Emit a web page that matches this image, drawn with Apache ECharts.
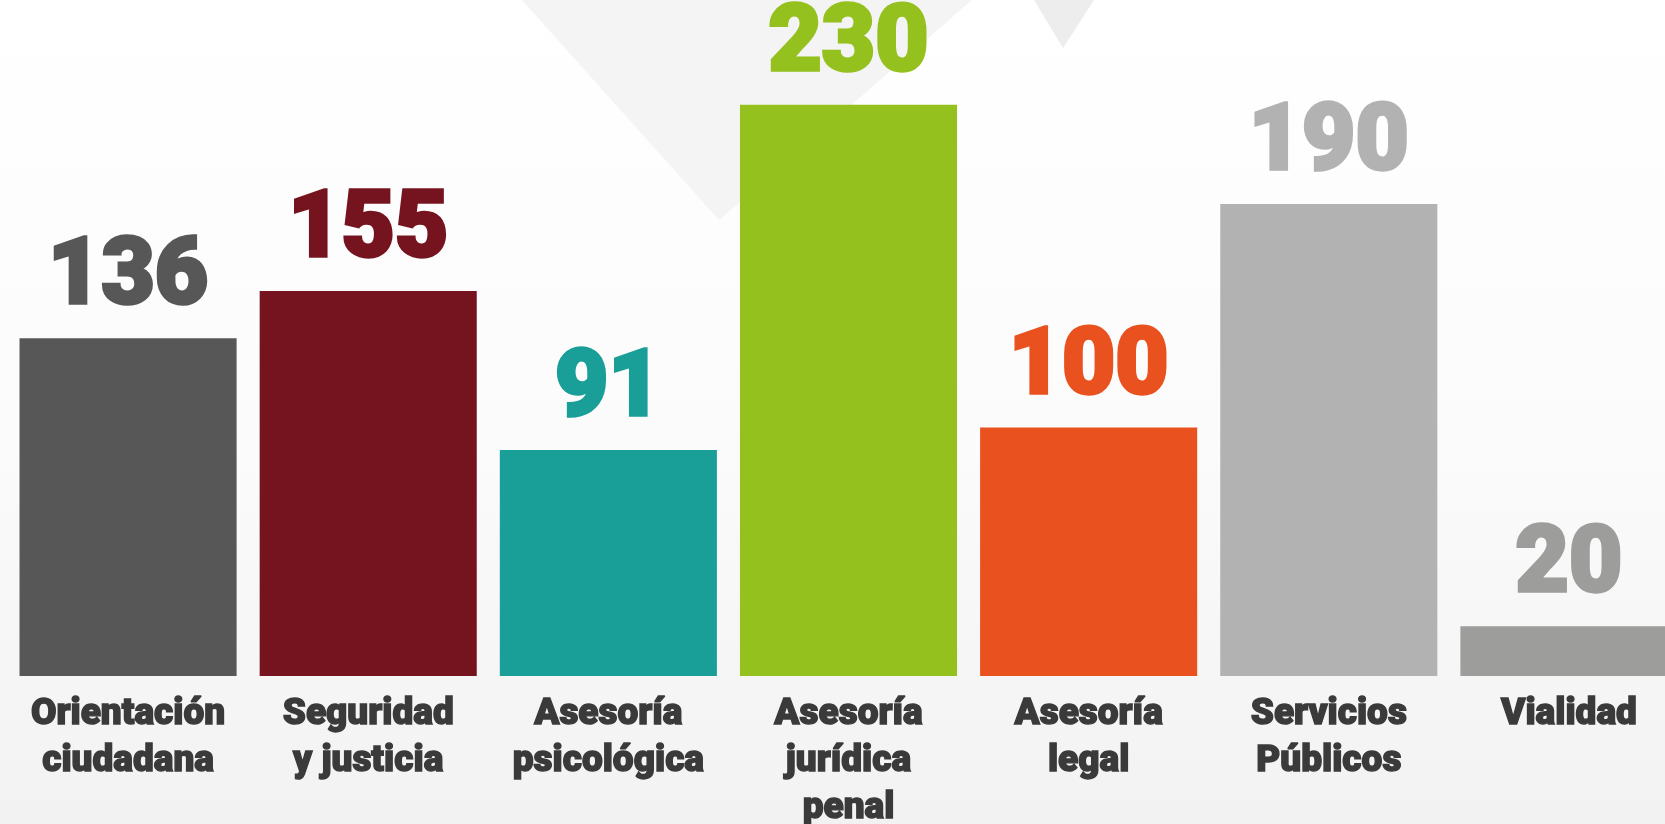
<!DOCTYPE html>
<html>
<head>
<meta charset="utf-8">
<title>Atenciones por área</title>
<script src="https://cdn.jsdelivr.net/npm/echarts@6/dist/echarts.min.js"></script>
<style>
  html, body { margin: 0; padding: 0; background: #fff; }
  #chart { width: 1665px; height: 824px; }
</style>
</head>
<body>
<div id="chart"></div>
<script>
// categorías y valores
const categories = [
  'Orientación\nciudadana',
  'Seguridad\ny justicia',
  'Asesoría\npsicológica',
  'Asesoría\njurídica\npenal',
  'Asesoría\nlegal',
  'Servicios\nPúblicos',
  'Vialidad'
]
const values = [136, 155, 91, 230, 100, 190, 20]
const colors = ['#575757', '#75141f', '#199e98', '#95c11f', '#e9511e', '#b2b2b2', '#9d9d9c']

const chart = echarts.init(document.getElementById('chart'))

const option = {
  animation: false,
  backgroundColor: {
    type: 'linear', x: 0, y: 0, x2: 0, y2: 1,
    colorStops: [
      { offset: 0, color: '#ffffff' },
      { offset: 0.55, color: '#fbfbfb' },
      { offset: 1, color: '#f2f2f2' }
    ]
  },
  // formas decorativas del fondo
  graphic: [
    {
      type: 'polygon', z: -10, silent: true,
      shape: { points: [[522, 0], [972, 0], [719, 220]] },
      style: { fill: '#f4f4f4' }
    },
    {
      type: 'polygon', z: -10, silent: true,
      shape: { points: [[1034, 0], [1094, 0], [1063, 48]] },
      style: { fill: '#ededed' }
    }
  ],
  grid: { left: 8, width: 1681, top: 55, bottom: 148, outerBoundsMode: 'none', containLabel: false },
  xAxis: {
    type: 'category',
    data: categories,
    axisLine: { show: false },
    axisTick: { show: false },
    axisLabel: {
      interval: 0,
      margin: 15,
      verticalAlign: 'top',
      color: '#3a3a3a',
      textBorderColor: '#3a3a3a',
      textBorderWidth: 1.4,
      fontFamily: 'Roboto',
      fontWeight: 900,
      fontSize: 37,
      lineHeight: 47
    }
  },
  yAxis: {
    type: 'value',
    min: 0,
    max: 250,
    show: false,
    splitLine: { show: false }
  },
  series: [{
    type: 'bar',
    barCategoryGap: '9.6%',
    data: values.map((v, i) => ({
      value: v,
      itemStyle: { color: colors[i] },
      label: { color: colors[i], textBorderColor: colors[i] }
    })),
    label: {
      show: true,
      position: 'top',
      distance: 16,
      textBorderWidth: 3.5,
      fontFamily: 'Roboto',
      fontWeight: 900,
      fontSize: 92,
      lineHeight: 84
    }
  }]
}

chart.setOption(option)
</script>
</body>
</html>
